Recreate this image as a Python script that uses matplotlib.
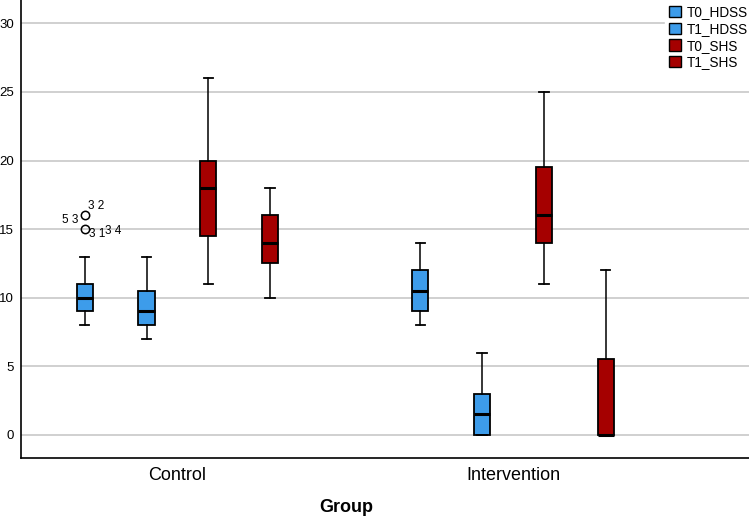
import matplotlib.pyplot as plt
import numpy as np

plt.rcParams['font.family'] = ['Liberation Sans', 'DejaVu Sans']

groups = ['Control', 'Intervention']
series = ['T0_HDSS', 'T1_HDSS', 'T0_SHS', 'T1_SHS']
colores = ['#3d9cea', '#3d9cea', '#a50000', '#a50000']

# [whislo, q1, med, q3, whishi] por grupo y serie
control = [[8, 9, 10, 11, 13],
           [7, 8, 9, 10.5, 13],
           [11, 14.5, 18, 20, 26],
           [10, 12.5, 14, 16, 18]]
intervention = [[8, 9, 10.5, 12, 14],
                [0, 0, 1.5, 3, 6],
                [11, 14, 16, 19.5, 25],
                [0, 0, 0, 5.5, 12]]

# atipicos del grupo control, T0_HDSS
outliers_ctrl = [16, 15]

offsets = [-0.276, -0.092, 0.092, 0.276]

fig = plt.figure(figsize=(7.49, 5.19), dpi=100)
ax = fig.add_axes([0.028, 0.117, 0.972, 0.883])

stats = []
pos = []
cols = []
for g, datos in enumerate([control, intervention]):
    for s, d in enumerate(datos):
        st = dict(whislo=d[0], q1=d[1], med=d[2], q3=d[3], whishi=d[4], fliers=[])
        if g == 0 and s == 0:
            st['fliers'] = outliers_ctrl
        stats.append(st)
        pos.append(g + offsets[s])
        cols.append(colores[s])

bp = ax.bxp(stats, positions=pos, widths=0.048, capwidths=0.028,
            patch_artist=True, manage_ticks=False,
            boxprops=dict(edgecolor='black', linewidth=1.3),
            medianprops=dict(color='black', linewidth=2.2),
            whiskerprops=dict(color='black', linewidth=1.1),
            capprops=dict(color='black', linewidth=1.3),
            flierprops=dict(marker='o', markerfacecolor='none',
                            markeredgecolor='black', markersize=6, markeredgewidth=1.1),
            zorder=3)
for patch, c in zip(bp['boxes'], cols):
    patch.set_facecolor(c)

# etiquetas de casos atipicos
x0 = offsets[0]
ax.text(x0 - 0.018, 16 - 0.35, '5 3', ha='right', va='center', fontsize=8.5)
ax.text(x0 + 0.01, 16 + 0.7, '3 2', ha='left', va='center', fontsize=8.5)
ax.text(x0 + 0.012, 15 - 0.35, '3 1', ha='left', va='center', fontsize=8.5)
ax.text(x0 + 0.06, 15 - 0.1, '3 4', ha='left', va='center', fontsize=8.5)

ax.set_ylim(-1.7, 31.7)
ax.set_xlim(-0.466, 1.703)
ax.set_yticks(np.arange(0, 31, 5))
ax.set_xticks([0, 1])
ax.set_xticklabels(groups, fontsize=13)
ax.tick_params(axis='both', length=0)
ax.tick_params(axis='y', labelsize=9.5, pad=5)
ax.tick_params(axis='x', pad=6)
ax.yaxis.grid(True, color='#c4c4c4', linewidth=1.1, zorder=0)
ax.set_axisbelow(True)
ax.spines['top'].set_visible(False)
ax.spines['right'].set_visible(False)
ax.spines['left'].set_linewidth(1.2)
ax.spines['bottom'].set_linewidth(1.2)

fig.text(346 / 749, 1 - 507 / 519, 'Group', ha='center', va='center',
         fontsize=13, fontweight='bold')

handles = [plt.Rectangle((0, 0), 1, 1, facecolor=c, edgecolor='black', linewidth=1.0)
           for c in colores]
leg = fig.legend(handles, series, loc='upper right', bbox_to_anchor=(1.013, 1.011),
                 frameon=True, fontsize=9.8, handlelength=0.9, handleheight=0.9,
                 handletextpad=0.4, labelspacing=0.2, borderpad=0.3)
leg.get_frame().set_edgecolor('white')
leg.get_frame().set_facecolor('white')
leg.get_frame().set_alpha(1)

fig.savefig('out.png', dpi=100)
